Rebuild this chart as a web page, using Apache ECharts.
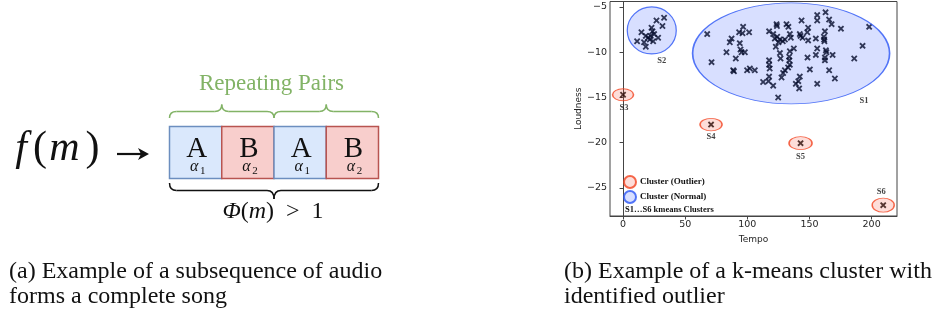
<!DOCTYPE html>
<html>
<head>
<meta charset="utf-8">
<script src="https://cdn.jsdelivr.net/npm/echarts@6/dist/echarts.min.js"></script>
<style>
  html, body { margin: 0; padding: 0; background: #fff; }
  #chart { width: 936px; height: 320px; }
</style>
</head>
<body>
<div id="chart"></div>
<script>
// cluster S1 (normal)
const s1Tempo = [67.7, 71.2, 83.2, 85.9, 87.3, 90.7, 88.6, 89.2, 93.4, 96.6, 96.1, 101.4, 93.9, 94.5, 95.3, 98.0,
  99.8, 102.0, 106.0, 112.7, 117.5, 123.5, 123.8, 131.5, 133.0, 120.8, 122.1, 124.0, 126.1, 130.2, 134.2, 135.0,
  122.9, 137.4, 134.2, 133.7, 133.7, 126.7, 117.5, 117.5, 118.0, 134.2, 132.8, 130.2, 128.8, 127.5, 117.5, 120.8,
  124.8, 143.6, 142.2, 144.4, 148.9, 148.2, 148.9, 142.8, 148.4, 150.3, 142.2, 139.0, 141.7, 155.1, 156.2, 155.1,
  156.2, 162.9, 156.2, 156.2, 165.8, 167.8, 175.3, 198.0, 162.4, 161.6, 161.8, 162.0, 163.2, 163.6, 168.6, 162.4,
  162.4, 192.7, 186.0, 165.8, 170.4, 117.0, 126.2, 128.5, 125.0, 141.0]
const s1Loud = [-8.0, -11.1, -10.0, -8.9, -8.5, -10.7, -12.0, -12.1, -7.8, -7.2, -7.9, -7.8, -9.0, -9.7, -10.0, -10.0,
  -12.0, -11.8, -12.0, -13.3, -7.7, -6.9, -7.1, -6.9, -7.2, -8.0, -8.5, -8.3, -8.6, -8.6, -8.0, -8.4,
  -9.4, -9.6, -9.9, -10.5, -10.9, -10.7, -10.9, -11.4, -11.8, -11.4, -11.7, -12.0, -12.3, -12.8, -12.7, -13.7,
  -15.0, -6.5, -8.0, -8.4, -7.3, -7.8, -8.7, -8.2, -10.6, -11.9, -12.7, -13.5, -14.0, -8.5, -9.6, -10.3,
  -13.5, -5.6, -5.9, -6.5, -6.4, -6.9, -7.4, -7.2, -7.7, -8.3, -8.6, -8.8, -9.8, -10.0, -10.3, -10.6,
  -10.9, -9.3, -10.7, -12.0, -12.9, -13.2, -10.1, -8.8, -8.9, -13.2]

// cluster S2 (normal)
const s2Tempo = [26.9, 33.0, 31.7, 22.9, 23.7, 14.8, 18.3, 22.3, 25.0, 20.1, 28.2, 11.3, 16.9, 24.2, 18.3, 21.5]
const s2Loud = [-6.5, -6.2, -7.1, -7.3, -7.7, -7.8, -8.2, -8.2, -8.0, -8.4, -8.4, -8.8, -8.9, -8.8, -9.4, -8.6]

// outliers S3..S6
const outlierNames = ['S3', 'S4', 'S5', 'S6']
const outlierTempo = [0, 70.8, 142.8, 209.3]
const outlierLoud = [-14.7, -18.0, -20.05, -26.9]

// normal cluster centres
const normalNames = ['S1', 'S2']
const normalTempo = [135.2, 23.1]
const normalLoud = [-10.13, -7.6]

const xTicks = [0, 50, 100, 150, 200]
const yTicks = [-25, -20, -15, -10, -5]

const boxLetters = ['A', 'B', 'A', 'B']
const boxSubs = ['1', '2', '1', '2']

const chart = echarts.init(document.getElementById('chart'), null, { renderer: 'canvas' })

const serif = 'Liberation Serif'
const sans = 'DejaVu Sans'
const xPath = 'path://M0,2L2,0L5,3L8,0L10,2L7,5L10,8L8,10L5,7L2,10L0,8L3,5Z'

const points = []
s1Tempo.forEach((t, i) => points.push([t, s1Loud[i]]))
s2Tempo.forEach((t, i) => points.push([t, s2Loud[i]]))
outlierTempo.forEach((t, i) => points.push([t, outlierLoud[i]]))

// ellipse sizes and label offsets (pixels)
const normalSize = { S1: [197, 101], S2: [49, 47] }
const labelOffset = { S1: [73, 47], S2: [10, 30], S3: [1, 13], S4: [0, 12.5], S5: [0, 13.7], S6: [-2, -13.3] }
const outlierSize = [[21, 12], [22, 12.5], [23, 13], [22, 14]]

const labelStyle = {
  show: true,
  position: 'inside',
  formatter: '{b}',
  fontFamily: serif,
  fontWeight: 'bold',
  fontSize: 8.5,
  color: '#111',
}

// text helper: y is the baseline
function txt(t, x, base, size, extra) {
  return {
    type: 'text', x, y: base - 0.305 * size, z: 10,
    style: Object.assign({ text: t, fontFamily: serif, fontSize: size, fill: '#111', align: 'center', verticalAlign: 'middle' }, extra || {}),
  }
}

// ---------- left panel (diagram) ----------
const graphics = []
const boxX0 = 169.5, boxW = 52.25, boxY = 126.5, boxH = 52
boxLetters.forEach((l, i) => {
  const blue = l === 'A'
  const x = boxX0 + i * boxW
  graphics.push({
    type: 'rect', shape: { x, y: boxY, width: boxW, height: boxH },
    style: { fill: blue ? '#dae8fc' : '#f8cecc', stroke: blue ? '#6c8ebf' : '#b85450', lineWidth: 1.5 },
    z: 1 + i,
  })
  const cx = x + boxW / 2
  graphics.push(txt(l, cx + 1, 158.5, 29))
  graphics.push(txt('α', cx - 1.5, 171.5, 16, { fontStyle: 'italic' }))
  graphics.push(txt(boxSubs[i], cx + 7, 174, 11))
})

// curly brace from quadratic curves and lines
function brace(x1, x2, yEnd, yLine, yTip, color) {
  const m = (x1 + x2) / 2
  const st = { fill: null, stroke: color, lineWidth: 1.5 }
  const q = (a, b, c, d, e, f) => ({ type: 'bezierCurve', shape: { x1: a, y1: b, cpx1: c, cpy1: d, x2: e, y2: f }, style: st })
  const ln = (a, b) => ({ type: 'line', shape: { x1: a, y1: yLine, x2: b, y2: yLine }, style: st })
  return [
    q(x1, yEnd, x1, yLine, x1 + 7, yLine),
    ln(x1 + 7, m - 7),
    q(m - 7, yLine, m, yLine, m, yTip),
    q(m, yTip, m, yLine, m + 7, yLine),
    ln(m + 7, x2 - 7),
    q(x2 - 7, yLine, x2, yLine, x2, yEnd),
  ]
}
graphics.push(...brace(169.5, 274, 118, 111.5, 104.5, '#82b366'))
graphics.push(...brace(274, 378.5, 118, 111.5, 104.5, '#82b366'))
graphics.push(...brace(169.5, 378.5, 183, 190.5, 199, '#111'))

graphics.push(txt('Repeating Pairs', 271.5, 91, 23, { fill: '#82b366' }))
graphics.push(txt('{i|Φ}{n|(}{i|m}{n|)  >  1}', 273, 219.5, 24, {
  rich: { i: { fontFamily: serif, fontSize: 24, fontStyle: 'italic', fill: '#111' }, n: { fontFamily: serif, fontSize: 24, fill: '#111' } },
}))

// f(m) ->
const fm = [['f', 21, true], ['(', 40, false], ['m', 64.5, true], [')', 92.5, false]]
fm.forEach(([t, x, it]) => graphics.push(txt(t, x, 162, 42, { fontStyle: it ? 'italic' : 'normal' })))
graphics.push({ type: 'line', shape: { x1: 117, y1: 154, x2: 145, y2: 154 }, style: { stroke: '#111', lineWidth: 2.2 } })
graphics.push({ type: 'polygon', shape: { points: [[149, 154], [138, 148], [141, 154], [138, 160]] }, style: { fill: '#111' } })

// captions
const caps = [
  ['(a) Example of a subsequence of audio', 9, 279],
  ['forms a complete song', 9, 304],
  ['(b) Example of a k-means cluster with', 564, 279],
  ['identified outlier', 564, 304],
]
caps.forEach(([t, x, y]) => graphics.push(txt(t, x, y, 24, { align: 'left' })))

// legend footnote
graphics.push(txt('S1…S6 kmeans Clusters', 625, 212, 8.5, { align: 'left', fontWeight: 'bold' }))

const option = {
  animation: false,
  backgroundColor: '#fff',
  grid: { left: 610, top: 1.5, width: 287, height: 214.5, show: true, borderColor: '#444', borderWidth: 1, backgroundColor: 'transparent' },
  xAxis: {
    type: 'value', min: -10.5, max: 220.4,
    name: 'Tempo', nameLocation: 'middle', nameGap: 15,
    nameTextStyle: { fontFamily: sans, fontSize: 9, color: '#262626' },
    axisLine: { show: true, lineStyle: { color: '#444', width: 1 } },
    axisTick: { show: true, length: 3.5, lineStyle: { color: '#444' }, customValues: xTicks },
    axisLabel: { fontFamily: sans, fontSize: 9.5, color: '#262626', margin: 4, customValues: xTicks },
    splitLine: { show: false },
  },
  yAxis: {
    type: 'value', min: -28.1, max: -4.4,
    name: 'Loudness', nameLocation: 'middle', nameGap: 24,
    nameTextStyle: { fontFamily: sans, fontSize: 9, color: '#262626' },
    axisLine: { show: true, lineStyle: { color: '#444', width: 1 } },
    axisTick: { show: true, length: 3.5, lineStyle: { color: '#444' }, customValues: yTicks },
    axisLabel: {
      fontFamily: sans, fontSize: 9.5, color: '#262626', margin: 3, customValues: yTicks,
      formatter: v => String(v).replace('-', '\u2212'),
    },
    splitLine: { show: false },
  },
  legend: {
    data: ['Cluster (Outlier)', 'Cluster (Normal)'],
    orient: 'vertical', left: 623, top: 175, itemWidth: 12, itemHeight: 12, itemGap: 1,
    icon: 'circle', padding: 0,
    textStyle: { fontFamily: serif, fontWeight: 'bold', fontSize: 9, color: '#111', padding: [0, 0, 0, -1] },
  },
  series: [
    {
      name: 'Songs', type: 'scatter', symbol: xPath, symbolSize: 6.5, z: 2,
      itemStyle: { color: '#000' },
      data: points,
    },
    {
      name: 'Cluster (Normal)', type: 'scatter', symbol: 'circle', z: 3,
      itemStyle: { color: 'rgba(35,75,255,0.22)', borderColor: '#2a55f5', borderWidth: 1.2 },
      data: normalNames.map((n, i) => ({
        name: n, value: [normalTempo[i], normalLoud[i]], symbolSize: normalSize[n],
        label: Object.assign({}, labelStyle, { offset: labelOffset[n] }),
      })),
    },
    {
      name: 'Cluster (Outlier)', type: 'scatter', symbol: 'circle', z: 3,
      itemStyle: { color: 'rgba(245,65,40,0.22)', borderColor: '#f3421f', borderWidth: 1.2 },
      data: outlierNames.map((n, i) => ({
        name: n, value: [outlierTempo[i], outlierLoud[i]], symbolSize: outlierSize[i],
        label: Object.assign({}, labelStyle, { offset: labelOffset[n] }),
      })),
    },
  ],
  graphic: graphics,
}

chart.setOption(option)
</script>
</body>
</html>
